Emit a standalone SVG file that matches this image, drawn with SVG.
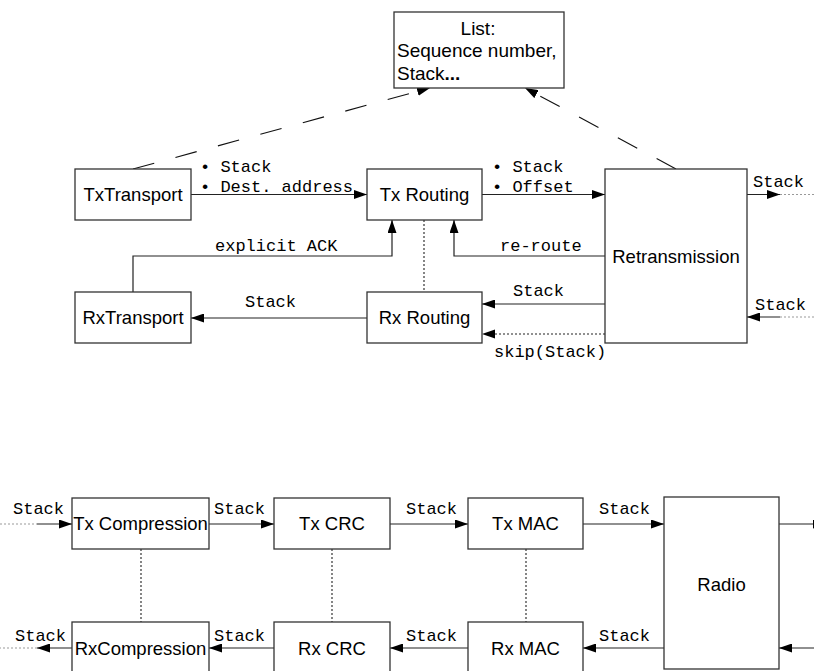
<svg xmlns="http://www.w3.org/2000/svg" width="814" height="671" viewBox="0 0 814 671">
<defs>
<marker id="ah" markerWidth="13" markerHeight="9" refX="13" refY="4.5" orient="auto" markerUnits="userSpaceOnUse">
<path d="M0,0 L13,4.5 L0,9 z" fill="#000"/>
</marker>
</defs>
<style>
.box{fill:#fff;stroke:#333;stroke-width:1.3}
.nt{font-family:"Liberation Sans",Arial,sans-serif;font-size:18.5px;fill:#000;text-anchor:middle}
.lt{font-family:"Liberation Sans",Arial,sans-serif;font-size:19px;fill:#000}
.mt{font-family:"Liberation Mono","Courier New",monospace;font-size:17px;fill:#000}
.ln{fill:none;stroke:#222;stroke-width:1.2}
.arr{fill:none;stroke:#222;stroke-width:1.2;marker-end:url(#ah)}
.dot{fill:none;stroke:#222;stroke-width:1.1;stroke-dasharray:2 2}
.gdot{fill:none;stroke:#999;stroke-width:1.1;stroke-dasharray:2 2}
.dash{fill:none;stroke:#111;stroke-width:1.1;stroke-dasharray:22 22;marker-end:url(#ah)}
</style>
<rect width="814" height="671" fill="#fff"/>
<g id="connectors">
<path class="dash" d="M133,169 L430,88"/>
<path class="dash" d="M676,169 L525,88"/>
<path class="arr" d="M191,194.5 L367,194.5"/>
<path class="arr" d="M482,194.5 L605,194.5"/>
<path class="arr" d="M747,194.5 L780,194.5"/>
<path class="gdot" d="M780,194.5 L814,194.5"/>
<path class="arr" d="M133,292 L133,256 L392,256 L392,220"/>
<path class="arr" d="M605,256 L454,256 L454,220"/>
<path class="dot" d="M424,220 L424,292"/>
<path class="arr" d="M605,304 L482,304"/>
<path class="arr" d="M367,318 L191,318" />
<path class="dot" d="M605,334 L494,334"/>
<path d="M482,334 L495,329.5 L495,338.5 z" fill="#000"/>
<path class="gdot" d="M814,317 L780,317"/>
<path class="arr" d="M780,317 L747,317"/>
<path class="gdot" d="M0,524 L37,524"/>
<path class="arr" d="M37,524 L72,524"/>
<path class="arr" d="M209,524 L274,524"/>
<path class="arr" d="M390,524 L468,524"/>
<path class="arr" d="M583,524 L664,524"/>
<path class="arr" d="M779,524 L826,524"/>
<path class="dot" d="M141,549 L141,622"/>
<path class="dot" d="M332,549 L332,622"/>
<path class="dot" d="M526,549 L526,622"/>
<path class="arr" d="M72,648 L37,648"/>
<path class="gdot" d="M37,648 L0,648"/>
<path class="arr" d="M274,648 L209,648"/>
<path class="arr" d="M468,648 L390,648"/>
<path class="arr" d="M664,648 L583,648"/>
<path class="arr" d="M814,648 L779,648"/>
</g>
<g id="labels">
<text class="mt" x="200" y="172">• Stack</text>
<text class="mt" x="200" y="192">• Dest. address</text>
<text class="mt" x="492" y="172">• Stack</text>
<text class="mt" x="492" y="192">• Offset</text>
<text class="mt" x="753" y="187">Stack</text>
<text class="mt" x="215" y="251">explicit ACK</text>
<text class="mt" x="500" y="251">re-route</text>
<text class="mt" x="245" y="307">Stack</text>
<text class="mt" x="513" y="296">Stack</text>
<text class="mt" x="494" y="357">skip(Stack)</text>
<text class="mt" x="755" y="310">Stack</text>
<text class="mt" x="13" y="514">Stack</text>
<text class="mt" x="214" y="514">Stack</text>
<text class="mt" x="406" y="514">Stack</text>
<text class="mt" x="599" y="514">Stack</text>
<text class="mt" x="15" y="641">Stack</text>
<text class="mt" x="214" y="641">Stack</text>
<text class="mt" x="406" y="641">Stack</text>
<text class="mt" x="599" y="641">Stack</text>
</g>
<g id="list">
<rect class="box" x="394" y="12" width="170" height="76"/>
<text class="lt" x="478" y="35" text-anchor="middle">List:</text>
<text class="lt" x="397" y="57">Sequence number,</text>
<text class="lt" x="397" y="80">Stack<tspan font-weight="bold">...</tspan></text>
</g>
<g id="txtransport">
<rect class="box" x="75" y="169" width="116" height="51"/>
<text class="nt" x="133" y="201">TxTransport</text>
</g>
<g id="txrouting">
<rect class="box" x="367" y="169" width="115" height="51"/>
<text class="nt" x="424.5" y="201">Tx Routing</text>
</g>
<g id="retransmission">
<rect class="box" x="605" y="169" width="142" height="174"/>
<text class="nt" x="676" y="263">Retransmission</text>
</g>
<g id="rxtransport">
<rect class="box" x="75" y="292" width="116" height="51"/>
<text class="nt" x="133" y="324">RxTransport</text>
</g>
<g id="rxrouting">
<rect class="box" x="367" y="292" width="115" height="51"/>
<text class="nt" x="424.5" y="324">Rx Routing</text>
</g>
<g id="txcompression">
<rect class="box" x="72" y="498" width="137" height="51"/>
<text class="nt" x="140.5" y="530">Tx Compression</text>
</g>
<g id="txcrc">
<rect class="box" x="274" y="498" width="116" height="51"/>
<text class="nt" x="332" y="530">Tx CRC</text>
</g>
<g id="txmac">
<rect class="box" x="468" y="498" width="115" height="51"/>
<text class="nt" x="525.5" y="530">Tx MAC</text>
</g>
<g id="radio">
<rect class="box" x="664" y="497" width="115" height="172"/>
<text class="nt" x="721.5" y="591">Radio</text>
</g>
<g id="rxcompression">
<rect class="box" x="72" y="622" width="137" height="51"/>
<text class="nt" x="140.5" y="655">RxCompression</text>
</g>
<g id="rxcrc">
<rect class="box" x="274" y="622" width="116" height="51"/>
<text class="nt" x="332" y="655">Rx CRC</text>
</g>
<g id="rxmac">
<rect class="box" x="468" y="622" width="115" height="51"/>
<text class="nt" x="525.5" y="655">Rx MAC</text>
</g>
</svg>
